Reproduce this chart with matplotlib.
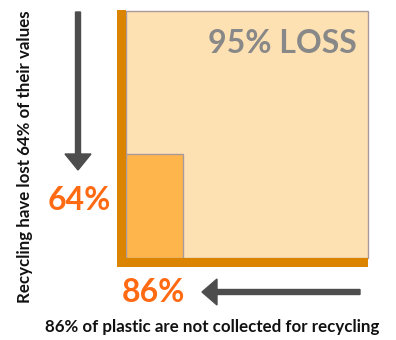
import matplotlib
matplotlib.use("Agg")
import matplotlib.pyplot as plt
from matplotlib.patches import Rectangle, FancyArrow
from matplotlib.transforms import IdentityTransform

# Shares of plastic value that are lost
not_collected_pct = 86
value_lost_pct = 64
total_loss_pct = 95

# Size of the remaining (collected and valued) block, as drawn
remaining_box_width = 0.235
remaining_box_height = 0.42

LIGHT = "#FEE1B2"
MID = "#FEB64C"
AXIS = "#DA8400"
ORANGE = "#FF6A13"
GREY_TXT = "#888888"
ARROW = "#4D4D4D"
EDGE = "#A89A9A"

W, H = 396, 340
fig = plt.figure(figsize=(W / 100, H / 100), dpi=100)
fig.patch.set_facecolor("white")

ax = fig.add_axes([126 / W, 1 - 258 / H, 242 / W, 247 / H])
ax.set_xlim(0, 1)
ax.set_ylim(0, 1)
ax.axis("off")

# whole value (100%)
ax.add_patch(Rectangle((0, 0), 1, 1, facecolor=LIGHT, edgecolor=EDGE,
                       linewidth=1.0, clip_on=False, zorder=1))
# what remains after collection and value loss
ax.add_patch(Rectangle((0, 0), remaining_box_width, remaining_box_height,
                       facecolor=MID, edgecolor=EDGE, linewidth=1.0,
                       clip_on=False, zorder=2))

# thick L-shaped axes
bx = 9 / 242
by = 9 / 247
ax.add_patch(Rectangle((-bx, -by), bx, 1 + by + 1 / 247, facecolor=AXIS,
                       edgecolor="none", clip_on=False, zorder=3))
ax.add_patch(Rectangle((-bx, -by), 1 + bx, by, facecolor=AXIS,
                       edgecolor="none", clip_on=False, zorder=3))

BIG = 23
ax.text(0.645, 0.87, f"{total_loss_pct}% LOSS", transform=ax.transAxes,
        ha="center", va="center", fontsize=BIG, fontweight="bold",
        color=GREY_TXT, family="Lato")

# arrows (display pixels)
fig.add_artist(FancyArrow(78, H - 12, 0, -(170 - 12), width=5,
                          head_width=26, head_length=16,
                          length_includes_head=True, color=ARROW,
                          transform=IdentityTransform()))
fig.add_artist(FancyArrow(360, H - 292, -(360 - 202), 0, width=5,
                          head_width=26, head_length=15,
                          length_includes_head=True, color=ARROW,
                          transform=IdentityTransform()))

fig.text(79 / W, 1 - 200 / H, f"{value_lost_pct}%", ha="center",
         va="center", fontsize=BIG, fontweight="bold", color=ORANGE,
         family="Lato")
fig.text(153 / W, 1 - 292 / H, f"{not_collected_pct}%", ha="center",
         va="center", fontsize=BIG, fontweight="bold", color=ORANGE,
         family="Lato")

fig.text(25 / W, 1 - 157 / H,
         f"Recycling have lost {value_lost_pct}% of their values",
         rotation=90, ha="center", va="center", fontsize=12.2,
         fontweight="bold", color="#111111", family="Lato")
fig.text(212 / W, 1 - 327 / H,
         f"{not_collected_pct}% of plastic are not collected for recycling",
         ha="center", va="center", fontsize=12.2, fontweight="bold",
         color="#111111", family="Lato")

fig.savefig("out.png", dpi=100)
